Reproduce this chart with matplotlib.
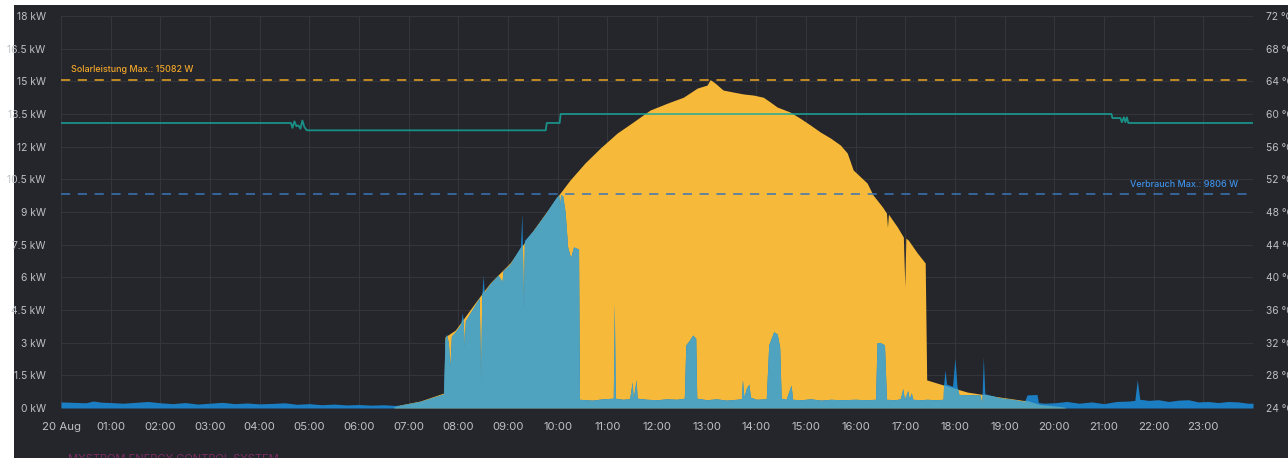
import matplotlib

matplotlib.use("Agg")
import matplotlib.pyplot as plt
import numpy as np
from matplotlib.patches import Rectangle

# ---- data (hours since midnight, kW / degC) ----
solar_points = [
    (0.00, 0.0), (6.69, 0.0), (6.83, 0.14), (7.23, 0.32), (7.71, 0.69),
    (7.73, 3.26), (7.94, 3.58), (8.38, 4.96), (8.64, 5.74), (9.04, 6.66),
    (9.51, 8.17), (9.99, 9.69), (10.25, 10.47), (10.55, 11.25), (10.86, 11.94),
    (11.20, 12.63), (11.52, 13.13), (11.86, 13.68), (12.21, 14.00), (12.53, 14.27),
    (12.81, 14.69), (13.01, 14.83), (13.07, 15.08), (13.17, 14.92), (13.33, 14.60),
    (13.53, 14.51), (13.74, 14.42), (13.94, 14.37), (14.14, 14.27), (14.28, 14.05),
    (14.42, 13.82), (14.68, 13.59), (14.88, 13.31), (15.09, 12.99), (15.29, 12.67),
    (15.49, 12.40), (15.69, 12.08), (15.83, 11.71), (15.95, 10.93), (16.23, 10.33),
    (16.35, 9.78), (16.54, 9.23), (16.62, 8.95), (16.64, 8.30), (16.66, 8.90),
    (16.84, 8.31), (16.96, 7.85), (16.99, 5.56), (17.01, 7.80), (17.06, 7.71),
    (17.24, 7.12), (17.40, 6.66), (17.43, 1.29), (17.76, 1.06), (18.25, 0.73),
    (18.91, 0.50), (19.46, 0.32), (19.72, 0.14), (20.12, 0.05), (20.25, 0.0),
    (24.00, 0.0),
]

consumption_points = [
    (0.00, 0.28), (0.25, 0.26), (0.50, 0.24), (0.65, 0.32), (0.80, 0.27),
    (1.00, 0.25), (1.25, 0.22), (1.50, 0.26), (1.75, 0.30), (2.00, 0.24),
    (2.25, 0.20), (2.50, 0.25), (2.75, 0.18), (3.00, 0.22), (3.25, 0.26),
    (3.50, 0.20), (3.75, 0.23), (4.00, 0.19), (4.25, 0.21), (4.50, 0.24),
    (4.75, 0.17), (5.00, 0.20), (5.25, 0.15), (5.50, 0.18), (5.75, 0.14),
    (6.00, 0.16), (6.25, 0.13), (6.50, 0.15), (6.70, 0.12), (6.83, 0.13),
    (7.23, 0.30), (7.70, 0.64), (7.73, 3.10), (7.76, 3.40), (7.80, 3.00),
    (7.83, 1.90), (7.86, 3.30), (7.94, 3.50), (8.05, 3.85), (8.08, 4.40),
    (8.10, 3.90), (8.12, 2.80), (8.14, 4.00), (8.30, 4.60), (8.42, 5.05),
    (8.45, 1.20), (8.47, 5.10), (8.50, 6.10), (8.52, 5.30), (8.64, 5.70),
    (8.80, 6.10), (8.88, 5.80), (8.90, 6.30), (9.04, 6.60), (9.25, 7.40),
    (9.28, 8.95), (9.31, 4.50), (9.33, 7.70), (9.51, 8.15), (9.75, 8.90),
    (9.95, 9.60), (10.02, 9.80), (10.04, 9.30), (10.06, 9.80), (10.10, 9.75),
    (10.15, 9.00), (10.20, 7.40), (10.26, 6.90), (10.32, 7.40), (10.42, 7.30),
    (10.44, 0.40), (10.70, 0.36), (10.90, 0.42), (11.12, 0.45), (11.14, 4.80),
    (11.16, 0.45), (11.30, 0.40), (11.45, 0.42), (11.50, 1.20), (11.52, 0.42),
    (11.58, 1.30), (11.60, 0.45), (11.80, 0.40), (12.00, 0.38), (12.20, 0.42),
    (12.40, 0.40), (12.55, 0.45), (12.58, 2.90), (12.65, 3.10), (12.72, 3.35),
    (12.78, 3.20), (12.80, 0.45), (13.00, 0.38), (13.20, 0.42), (13.40, 0.36),
    (13.60, 0.40), (13.70, 0.42), (13.72, 1.30), (13.75, 0.50), (13.80, 0.90),
    (13.85, 1.10), (13.88, 0.50), (14.00, 0.40), (14.20, 0.42), (14.25, 2.90),
    (14.35, 3.50), (14.42, 3.40), (14.47, 2.80), (14.50, 0.45), (14.60, 0.40),
    (14.70, 1.05), (14.73, 0.40), (14.90, 0.38), (15.10, 0.42), (15.30, 0.36),
    (15.50, 0.40), (15.70, 0.38), (16.00, 0.40), (16.20, 0.38), (16.40, 0.40),
    (16.43, 3.00), (16.50, 3.00), (16.58, 2.90), (16.62, 0.40), (16.80, 0.38),
    (16.90, 0.42), (16.95, 0.90), (16.98, 0.40), (17.05, 0.80), (17.08, 0.40),
    (17.12, 0.70), (17.15, 0.40), (17.30, 0.38), (17.44, 0.40), (17.60, 0.38),
    (17.76, 0.40), (17.77, 1.05), (17.80, 1.75), (17.83, 1.10), (17.95, 1.00),
    (18.00, 2.30), (18.04, 1.00), (18.08, 0.62), (18.50, 0.60), (18.54, 0.20),
    (18.57, 2.35), (18.60, 0.66), (18.90, 0.47), (19.20, 0.38), (19.40, 0.30),
    (19.45, 0.60), (19.65, 0.62), (19.68, 0.25), (19.80, 0.22), (20.00, 0.24),
    (20.25, 0.30), (20.50, 0.22), (20.75, 0.28), (21.00, 0.20), (21.25, 0.30),
    (21.50, 0.32), (21.62, 0.35), (21.67, 1.30), (21.72, 0.40), (21.90, 0.35),
    (22.10, 0.38), (22.30, 0.30), (22.50, 0.36), (22.70, 0.38), (22.90, 0.28),
    (23.10, 0.30), (23.30, 0.25), (23.50, 0.30), (23.70, 0.28), (23.90, 0.22),
    (24.00, 0.22),
]

temperature_points = [
    (0.00, 58.9), (4.63, 58.9), (4.66, 58.3), (4.70, 59.1), (4.74, 58.5),
    (4.78, 58.6), (4.82, 58.2), (4.86, 59.2), (4.90, 58.4), (4.95, 58.0),
    (9.76, 58.0), (9.78, 58.9), (10.04, 58.9), (10.06, 60.0), (21.15, 60.0),
    (21.17, 59.5), (21.33, 59.5), (21.36, 59.0), (21.40, 59.6), (21.43, 59.0),
    (21.46, 59.6), (21.49, 58.9), (24.00, 58.9),
]

solar_max_w = 15082
consumption_max_w = 9806

hour_labels = ["20 Aug"] + [f"{h:02d}:00" for h in range(1, 24)]
kw_ticks = [0, 1.5, 3, 4.5, 6, 7.5, 9, 10.5, 12, 13.5, 15, 16.5, 18]
temp_ticks = [24, 28, 32, 36, 40, 44, 48, 52, 56, 60, 64, 68, 72]

# ---- style ----
BG = "#25262b"
GRID = "#34353b"
TXT = "#bfc0c5"
YELLOW = "#f7b93a"
LIGHTBLUE = "#4fa3bf"
DARKBLUE = "#1b7ec2"
TEAL = "#17ab9f"
plt.rcParams["font.family"] = ["Inter", "DejaVu Sans"]

st, sv = np.array(solar_points).T
ct, cv = np.array(consumption_points).T
tt, tv = np.array(temperature_points).T

fig = plt.figure(figsize=(12.88, 4.58), dpi=100, facecolor="white")
fig.patches.append(Rectangle((14 / 1288, 0), 1, 1 - 5 / 458, transform=fig.transFigure,
                             facecolor=BG, edgecolor="none", zorder=-10))
ax = fig.add_axes([61 / 1288, 1 - 408 / 458, (1253 - 61) / 1288, (408 - 16) / 458])
ax.set_facecolor(BG)
for s in ax.spines.values():
    s.set_visible(False)

# solar in yellow, consumption in dark blue, self-used part (under solar) light blue
solar_fill = ax.fill_between(st, 0, sv, color=YELLOW, lw=0, zorder=2)
ax.fill_between(ct, 0, cv, color=DARKBLUE, lw=0, zorder=3)
self_use = ax.fill_between(ct, 0, cv, color=LIGHTBLUE, lw=0, zorder=4)
self_use.set_clip_path(solar_fill.get_paths()[0], ax.transData)

ax.axhline(solar_max_w / 1000, color="#eca51f", lw=1.1, ls=(0, (6, 5)), zorder=5)
ax.axhline(consumption_max_w / 1000, color="#3a76b8", lw=1.1, ls=(0, (6, 5)), zorder=5)
ax.text(0.2, solar_max_w / 1000 + 0.25, f"Solarleistung Max.: {solar_max_w} W",
        color="#f0a52a", fontsize=6.5, fontweight="medium", va="bottom", zorder=6)
ax.text(23.7, consumption_max_w / 1000 + 0.25, f"Verbrauch Max.: {consumption_max_w} W",
        color="#3d8fe6", fontsize=6.5, fontweight="medium", va="bottom", ha="right", zorder=6)

ax.set_xlim(0, 24)
ax.set_ylim(0, 18)
ax.set_xticks(range(24), hour_labels)
ax.set_yticks(kw_ticks, [f"{v:g} kW" for v in kw_ticks])
ax.grid(True, color=GRID, lw=0.8)
ax.set_axisbelow(True)
ax.tick_params(axis="x", length=0, pad=10, labelsize=8.2, labelcolor=TXT)
ax.tick_params(axis="y", length=0, pad=11, labelsize=7.4, labelcolor=TXT)

ax2 = ax.twinx()
for s in ax2.spines.values():
    s.set_visible(False)
ax2.plot(tt, tv, color=TEAL, lw=1.3, alpha=0.8)
ax2.set_ylim(24, 72)
ax2.set_yticks(temp_ticks, [f"{v} °C" for v in temp_ticks])
ax2.tick_params(axis="y", length=0, pad=9, labelsize=7.4, labelcolor=TXT)

# panel footer, mostly cut off by the bottom edge as in the screenshot
fig.text(68 / 1288, 4 / 458, "MYSTROM ENERGY CONTROL SYSTEM", color="#7a2c62",
         fontsize=8, va="top")

fig.savefig("out.png", dpi=100, facecolor=fig.get_facecolor())
